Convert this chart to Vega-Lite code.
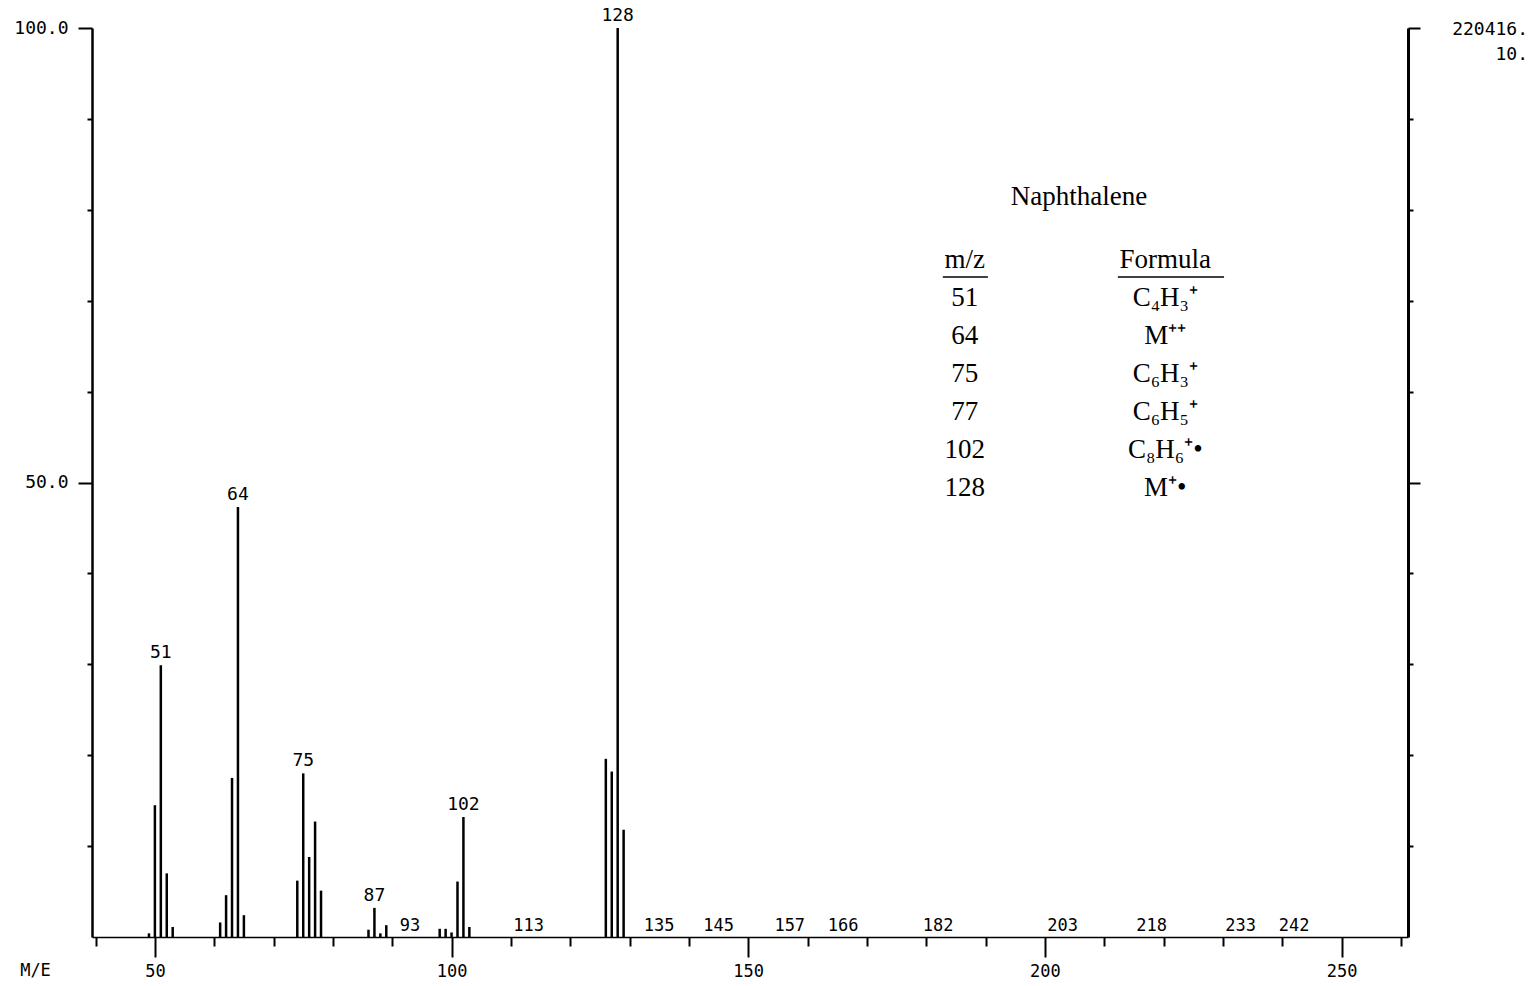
{
  "$schema": "https://vega.github.io/schema/vega-lite/v6.json",
  "width": 1316,
  "height": 909,
  "autosize": {"type": "none"},
  "padding": {"left": 92, "top": 28, "right": 125, "bottom": 49},
  "background": "white",
  "config": {"view": {"stroke": null}, "font": "DejaVu Sans Mono"},
  "datasets": {
    "peaks": [
      {"mz": 49, "intensity": 0.4},
      {"mz": 50, "intensity": 14.5},
      {"mz": 51, "intensity": 29.9, "label": "51"},
      {"mz": 52, "intensity": 7.0},
      {"mz": 53, "intensity": 1.1},
      {"mz": 61, "intensity": 1.6},
      {"mz": 62, "intensity": 4.6},
      {"mz": 63, "intensity": 17.5},
      {"mz": 64, "intensity": 47.3, "label": "64"},
      {"mz": 65, "intensity": 2.4},
      {"mz": 74, "intensity": 6.2},
      {"mz": 75, "intensity": 18.0, "label": "75"},
      {"mz": 76, "intensity": 8.8},
      {"mz": 77, "intensity": 12.7},
      {"mz": 78, "intensity": 5.1},
      {"mz": 86, "intensity": 0.8},
      {"mz": 87, "intensity": 3.2, "label": "87"},
      {"mz": 88, "intensity": 0.4},
      {"mz": 89, "intensity": 1.3},
      {"mz": 98, "intensity": 0.9},
      {"mz": 99, "intensity": 0.9},
      {"mz": 100, "intensity": 0.5},
      {"mz": 101, "intensity": 6.1},
      {"mz": 102, "intensity": 13.2, "label": "102"},
      {"mz": 103, "intensity": 1.1},
      {"mz": 126, "intensity": 19.6},
      {"mz": 127, "intensity": 18.2},
      {"mz": 128, "intensity": 100, "label": "128"},
      {"mz": 129, "intensity": 11.8}
    ],
    "markers": [
      {"mz": 93}, {"mz": 113}, {"mz": 135}, {"mz": 145}, {"mz": 157}, {"mz": 166},
      {"mz": 182}, {"mz": 203}, {"mz": 218}, {"mz": 233}, {"mz": 242}
    ],
    "table": [
      {"row": 0, "mz": "m/z", "formula": "Formula"},
      {"row": 1, "mz": "51", "formula": "C₄H₃⁺"},
      {"row": 2, "mz": "64", "formula": "M⁺⁺"},
      {"row": 3, "mz": "75", "formula": "C₆H₃⁺"},
      {"row": 4, "mz": "77", "formula": "C₆H₅⁺"},
      {"row": 5, "mz": "102", "formula": "C₈H₆⁺•"},
      {"row": 6, "mz": "128", "formula": "M⁺•"}
    ]
  },
  "layer": [
    {
      "layer": [
        {
          "data": {"name": "peaks"},
          "mark": {"type": "rule", "color": "black", "strokeWidth": 2.5},
          "encoding": {
            "x": {
              "field": "mz", "type": "quantitative",
              "scale": {"domain": [39.4, 261.2], "nice": false, "zero": false},
              "axis": {
                "values": [40,45,50,55,60,65,70,75,80,85,90,95,100,105,110,115,120,125,130,135,140,145,150,155,160,165,170,175,180,185,190,195,200,205,210,215,220,225,230,235,240,245,250,255,260],
                "tickSize": {"condition": {"test": "datum.value % 50 === 0", "value": 20}, "value": 9},
                "tickWidth": 2, "tickColor": "black",
                "domainColor": "black", "domainWidth": 1.5,
                "labelExpr": "datum.value % 50 === 0 ? datum.label : ''",
                "labelFont": "DejaVu Sans Mono", "labelFontSize": 17, "labelColor": "black",
                "labelPadding": 6, "labelOverlap": false, "labelFlush": false,
                "grid": false,
                "title": "M/E", "titleX": -57, "titleY": 33, "titleAlign": "center", "titleBaseline": "middle",
                "titleFont": "DejaVu Sans Mono", "titleFontSize": 17, "titleFontWeight": "normal", "titleColor": "black"
              }
            },
            "y": {
              "field": "intensity", "type": "quantitative",
              "scale": {"domain": [0, 100], "nice": false},
              "axis": {
                "values": [10,20,30,40,50,60,70,80,90,100],
                "tickSize": {"condition": {"test": "datum.value % 50 === 0", "value": 14}, "value": 5},
                "tickWidth": 2, "tickColor": "black",
                "domainColor": "black", "domainWidth": 2.5,
                "labelExpr": "datum.value % 50 === 0 ? format(datum.value, '.1f') : ''",
                "labelFont": "DejaVu Sans Mono", "labelFontSize": 18, "labelColor": "black",
                "labelPadding": 10, "labelOverlap": false, "labelFlush": false,
                "grid": false, "title": null
              }
            },
            "y2": {"datum": 0}
          }
        },
        {
          "data": {"name": "peaks"},
          "transform": [{"filter": "datum.label"}],
          "mark": {"type": "text", "font": "DejaVu Sans Mono", "fontSize": 18, "color": "black", "baseline": "bottom", "dy": -3},
          "encoding": {
            "x": {"field": "mz", "type": "quantitative"},
            "y": {
              "field": "intensity", "type": "quantitative",
              "axis": {
                "orient": "right",
                "values": [10,20,30,40,50,60,70,80,90,100],
                "tickSize": {"condition": {"test": "datum.value % 50 === 0", "value": 12}, "value": 5},
                "tickWidth": 2, "tickColor": "black",
                "domainColor": "black", "domainWidth": 3,
                "labels": false, "grid": false, "title": null
              }
            },
            "text": {"field": "label"}
          }
        },
        {
          "data": {"name": "markers"},
          "mark": {"type": "text", "font": "DejaVu Sans Mono", "fontSize": 17, "color": "black", "baseline": "bottom", "dy": -2},
          "encoding": {
            "x": {"field": "mz", "type": "quantitative"},
            "y": {"datum": 0, "axis": null},
            "text": {"field": "mz", "type": "quantitative"}
          }
        },
        {
          "data": {"values": [{}]},
          "mark": {"type": "text", "font": "Liberation Serif", "fontSize": 27, "color": "black", "baseline": "middle", "align": "center"},
          "encoding": {
            "x": {"datum": 205.75},
            "y": {"datum": 81.4, "axis": null},
            "text": {"value": "Naphthalene"}
          }
        },
        {
          "data": {"values": [{}]},
          "mark": {"type": "rule", "color": "black", "strokeWidth": 1.5},
          "encoding": {
            "x": {"datum": 182.8},
            "x2": {"datum": 190.4},
            "y": {"datum": 72.6, "axis": null}
          }
        },
        {
          "data": {"values": [{}]},
          "mark": {"type": "rule", "color": "black", "strokeWidth": 1.5},
          "encoding": {
            "x": {"datum": 212.3},
            "x2": {"datum": 230.2},
            "y": {"datum": 72.6, "axis": null}
          }
        },
        {
          "data": {"values": [{}]},
          "mark": {"type": "text", "font": "DejaVu Sans Mono", "fontSize": 18, "color": "black", "baseline": "middle", "align": "right", "dx": 120, "dy": 2},
          "encoding": {
            "x": {"datum": 261.2},
            "y": {"datum": 100, "axis": null},
            "text": {"value": "220416."}
          }
        },
        {
          "data": {"values": [{}]},
          "mark": {"type": "text", "font": "DejaVu Sans Mono", "fontSize": 18, "color": "black", "baseline": "middle", "align": "right", "dx": 120, "dy": 27},
          "encoding": {
            "x": {"datum": 261.2},
            "y": {"datum": 100, "axis": null},
            "text": {"value": "10."}
          }
        }
      ],
      "resolve": {"axis": {"y": "independent"}}
    },
    {
      "data": {"name": "table"},
      "layer": [
        {
          "mark": {"type": "text", "font": "Liberation Serif", "fontSize": 27, "color": "black", "baseline": "middle", "align": "center"},
          "encoding": {
            "x": {"datum": 186.5},
            "y": {"field": "row", "type": "quantitative", "scale": {"domain": [-6.105, 17.816], "reverse": true, "nice": false, "zero": false}, "axis": null},
            "text": {"field": "mz"}
          }
        },
        {
          "mark": {"type": "text", "font": "Liberation Serif", "fontSize": 27, "color": "black", "baseline": "middle", "align": "center"},
          "encoding": {
            "x": {"datum": 220.3},
            "y": {"field": "row", "type": "quantitative"},
            "text": {"field": "formula"}
          }
        }
      ]
    }
  ],
  "resolve": {"scale": {"y": "independent"}, "axis": {"y": "independent"}}
}
